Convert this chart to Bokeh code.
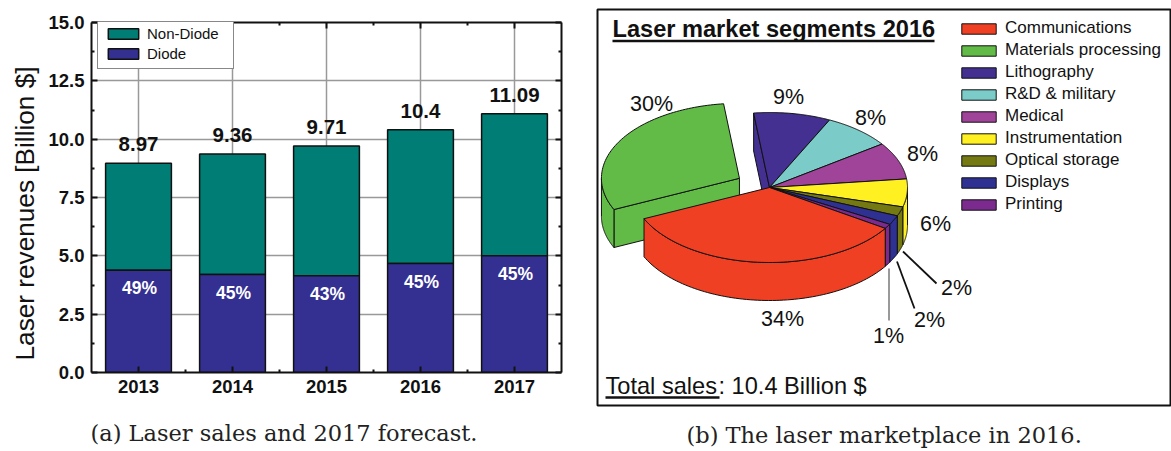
import numpy as np
from bokeh.embed import file_html
from bokeh.resources import INLINE
from bokeh.plotting import figure
from bokeh.layouts import row, column
from bokeh.models import (Range1d, LinearAxis, FixedTicker, Legend, LegendItem, Title, Grid)
from bokeh.core.properties import value

# ---------- data ----------
years = [2013, 2014, 2015, 2016, 2017]
totals = [8.97, 9.36, 9.71, 10.4, 11.09]
diode = [4.38, 4.2, 4.15, 4.67, 5.0]
diode_pct = ["49%", "45%", "43%", "45%", "45%"]
total_labels = ["8.97", "9.36", "9.71", "10.4", "11.09"]
y_major = [0, 2.5, 5, 7.5, 10, 12.5, 15]
y_minor = [1.25, 3.75, 6.25, 8.75, 11.25, 13.75]
x_minor = [2013.5, 2014.5, 2015.5, 2016.5]

segments = ["Communications", "Materials processing", "Lithography", "R&D & military", "Medical",
            "Instrumentation", "Optical storage", "Displays", "Printing"]
shares = [34, 30, 9, 8, 8, 6, 2, 2, 1]
seg_colors = ["#F04023", "#62BB46", "#433090", "#7BCCC8", "#A0449A", "#FFF022", "#757912", "#2E3192", "#7B2A8E"]

SANS = "Liberation Sans"
SERIF = "DejaVu Serif"
INK = "#111111"
TEAL, BLUE = "#007D74", "#333092"
PAGE_H = 451

# ---------- (a) bars ----------
a = figure(title=None, width=596, height=PAGE_H, frame_width=470, frame_height=350,
           x_range=Range1d(2012.5, 2017.5), y_range=Range1d(0, 15),
           min_border_left=91, min_border_right=35, min_border_top=22, min_border_bottom=79,
           output_backend="svg", toolbar_location=None, x_axis_type=None, y_axis_type=None)
a.outline_line_color = None
xtick = FixedTicker(ticks=years, minor_ticks=x_minor)
ytick = FixedTicker(ticks=y_major, minor_ticks=y_minor)


def style(ax, labels=True):
    ax.axis_line_width = 2
    ax.axis_line_color = INK
    ax.major_tick_in, ax.major_tick_out = 6, 0
    ax.minor_tick_in, ax.minor_tick_out = 3, 0
    ax.major_tick_line_width = 2
    ax.minor_tick_line_width = 2
    ax.major_tick_line_color = INK
    ax.minor_tick_line_color = INK
    ax.major_label_text_font = SANS
    ax.major_label_text_font_style = "bold"
    ax.major_label_text_font_size = "18.5px"
    ax.major_label_text_color = INK
    if not labels:
        ax.major_label_text_color = None
        ax.major_label_standoff = 0
        ax.major_label_text_font_size = "1px"


left = LinearAxis(ticker=ytick)
style(left)
left.major_label_overrides = {v: f"{v:.1f}" for v in y_major}
left.major_label_standoff = 7
a.add_layout(left, "left")
a.add_layout(Title(text="Laser revenues [Billion $]", align="left", offset=12, standoff=12,
                   text_font=SANS, text_font_size="26.2px", text_color=INK, text_font_style="normal"), "left")
bottom = LinearAxis(ticker=xtick)
style(bottom)
bottom.major_label_standoff = 7
bottom.major_label_overrides = {v: str(v) for v in years}
a.add_layout(bottom, "below")
rt = LinearAxis(ticker=ytick)
style(rt, False)
a.add_layout(rt, "right")
tp = LinearAxis(ticker=xtick)
style(tp, False)
a.add_layout(tp, "above")

a.xgrid.visible = False
a.ygrid.visible = False
for dim, tick in ((0, xtick), (1, ytick)):
    a.add_layout(Grid(dimension=dim, ticker=tick, grid_line_color="#999999", grid_line_width=1.5))

r_top = a.vbar(x=years, bottom=diode, top=totals, width=0.7, fill_color=TEAL, line_color=INK, line_width=1.5)
r_low = a.vbar(x=years, bottom=0, top=diode, width=0.7, fill_color=BLUE, line_color=INK, line_width=1.5)
a.text(x=years, y=totals, text=total_labels, text_font=value(SANS), text_font_style="bold",
       text_font_size="20.5px", text_align="center", text_baseline="middle", text_color=INK, y_offset=-19)
a.text(x=years, y=diode, text=diode_pct, text_font=value(SANS), text_font_style="bold",
       text_font_size="17.5px", text_align="center", text_baseline="middle", text_color="white",
       x_offset=1, y_offset=18)
lg = Legend(items=[LegendItem(label="Non-Diode", renderers=[r_top]), LegendItem(label="Diode", renderers=[r_low])],
            location=(6, 303), margin=0, padding=6, spacing=3, glyph_width=38, glyph_height=13,
            label_standoff=5, label_height=15, label_width=80, label_text_font=SANS, label_text_font_size="15px",
            label_text_color=INK, border_line_color=INK, border_line_width=1, background_fill_alpha=1)
a.add_layout(lg)
a.add_layout(Title(text="(a) Laser sales and 2017 forecast.", align="left", offset=-1, standoff=45,
                   text_font=SERIF, text_font_size="22.5px", text_color="#222222", text_font_style="normal"), "below")

# ---------- (b) pie ----------
CX, CY, RX, RY, DEPTH = 769, 187, 138, 75, 38 / 75
PX0, PY0 = 597, 9
FW, FH = 574, 396


def dx(px):
    return (px - CX) / RX


def dy(py):
    return (CY - py) / RY


b = figure(title=None, width=575, height=PAGE_H, frame_width=FW, frame_height=FH,
           x_range=Range1d(dx(PX0), dx(PX0 + FW)), y_range=Range1d(dy(PY0 + FH), dy(PY0)),
           min_border_left=1, min_border_right=0, min_border_top=PY0, min_border_bottom=PAGE_H - FH - PY0,
           output_backend="svg", toolbar_location=None, x_axis_type=None, y_axis_type=None)
b.xgrid.visible = False
b.ygrid.visible = False
b.outline_line_color = INK
b.outline_line_width = 2

START = -33.0
order = [8, 7, 6, 5, 4, 3, 2, 1, 0]  # counter-clockwise from the Printing slice
angles = {}
t = START
for i in order:
    angles[i] = (t, t + shares[i] * 3.6)
    t += shares[i] * 3.6
EXPLODE = {1: 0.25}
LINE = dict(line_color="#111111", line_width=1)


def offset(i):
    k = EXPLODE.get(i, 0.0)
    m = np.radians(sum(angles[i]) / 2)
    return k * np.cos(m), k * np.sin(m)


def arc(t0, t1):
    a_ = np.radians(np.linspace(t0, t1, 80))
    return np.cos(a_), np.sin(a_)


def top_face(i):
    t0, t1 = angles[i]
    ox, oy = offset(i)
    x, y = arc(t0, t1)
    return b.patch(np.r_[ox, x + ox], np.r_[oy, y + oy], fill_color=seg_colors[i], **LINE)


def outer_wall(i):
    t0, t1 = angles[i]
    ox, oy = offset(i)
    for lo, hi in ((-180, 0), (180, 360)):
        s, e = max(t0, lo), min(t1, hi)
        if e > s:
            x, y = arc(s, e)
            b.patch(np.r_[x + ox, x[::-1] + ox], np.r_[y + oy, y[::-1] + oy - DEPTH],
                    fill_color=seg_colors[i], **LINE)


def cut_face(i, ang):
    ox, oy = offset(i)
    c, s = np.cos(np.radians(ang)), np.sin(np.radians(ang))
    b.patch([ox, ox + c, ox + c, ox], [oy, oy + s, oy + s - DEPTH, oy - DEPTH], fill_color=seg_colors[i], **LINE)


draw_order = [1, 2, 3, 4, 5, 6, 7, 8, 0]
renderers = {}
for i in draw_order:
    if i == 1:
        cut_face(1, angles[1][1])
    if i == 2:
        cut_face(2, angles[2][1])
    outer_wall(i)
    renderers[i] = top_face(i)

leg = Legend(items=[LegendItem(label=segments[i], renderers=[renderers[i]]) for i in range(9)],
             location=(360, 191), margin=0, padding=5, spacing=2, glyph_width=43, glyph_height=13,
             label_standoff=5, label_height=17, label_text_font=SANS, label_text_font_size="17px",
             label_text_color=INK, border_line_color=None, background_fill_alpha=0)
b.add_layout(leg)

# percent labels and leader lines, placed in page pixels
pct_text = ["34%", "30%", "9%", "8%", "8%", "6%", "2%", "2%", "1%"]
pct_px = [(782, 318), (651, 103), (788, 96), (870, 117), (922, 153), (935, 223), (956, 287), (929, 319), (888, 335)]
b.text(x=[dx(p[0]) for p in pct_px], y=[dy(p[1]) for p in pct_px], text=pct_text, text_font=value(SANS),
       text_font_size="21.5px", text_align="center", text_baseline="middle", text_color=INK)
b.segment(x0=[dx(902.5), dx(896.5)], y0=[dy(251), dy(261)], x1=[dx(936), dx(914)], y1=[dy(283), dy(308)],
          line_color=INK, line_width=1.8)
b.segment(x0=[dx(888.5)], y0=[dy(268)], x1=[dx(888.5)], y1=[dy(320)], line_color="#777777", line_width=1.5)

b.text(x=[dx(612)], y=[dy(28.5)], text=["Laser market segments 2016"], text_font=value(SANS), text_font_style="bold",
       text_font_size="23.6px", text_align="left", text_baseline="middle", text_color=INK)
b.text(x=[dx(605)], y=[dy(385.5)], text=["Total sales"], text_font=value(SANS), text_font_size="23.6px",
       text_align="left", text_baseline="middle", text_color=INK)
b.text(x=[dx(718)], y=[dy(385.5)], text=[": 10.4 Billion $"], text_font=value(SANS), text_font_size="23.6px",
       text_align="left", text_baseline="middle", text_color=INK)
b.segment(x0=[dx(612), dx(605)], y0=[dy(40.5), dy(397)], x1=[dx(934), dx(719)], y1=[dy(40.5), dy(397)],
          line_color=INK, line_width=2.5)
b.add_layout(Title(text="(b) The laser marketplace in 2016.", align="left", offset=89, standoff=28,
                   text_font=SERIF, text_font_size="22.5px", text_color="#222222", text_font_style="normal"), "below")

page = row(column(a), column(b), spacing=0)
open("out.html", "w").write(file_html(page, INLINE))
